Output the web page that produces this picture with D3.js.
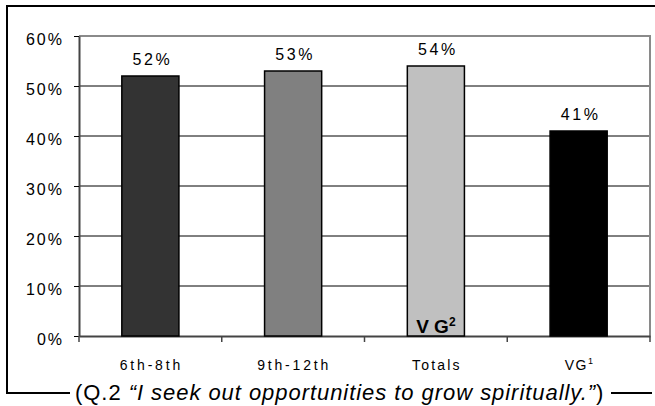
<!DOCTYPE html>
<html>
<head>
<meta charset="utf-8">
<script src="https://cdn.jsdelivr.net/npm/d3@7"></script>
<style>
  body { margin: 0; background: #fff; }
  text { font-family: Arial, "Liberation Sans", sans-serif; fill: #000; }
</style>
</head>
<body>
<svg id="chart" width="655" height="406"></svg>
<script>
// data
const categories = ["6th-8th", "9th-12th", "Totals", "VG"];
const values = [52, 53, 54, 41];
const barColors = ["#333333", "#808080", "#c0c0c0", "#000000"];
const yTicks = [0, 10, 20, 30, 40, 50, 60];

const plot = { left: 79, right: 650, top: 36, bottom: 336 };

const svg = d3.select("#chart");

const x = d3.scaleBand().domain(categories).range([plot.left, plot.right]).padding(0);
const y = d3.scaleLinear().domain([0, 60]).range([plot.bottom, plot.top]);
const barW = x.bandwidth() * 0.4;

// outer frame (top, left, bottom pieces broken by the caption)
svg.append("path")
  .attr("d", "M655,6 H7 V393 H70 M611,393 H652")
  .attr("fill", "none")
  .attr("stroke", "#000")
  .attr("stroke-width", 2);

// gridlines
svg.append("g")
  .selectAll("line")
  .data(yTicks.filter(t => t > 0 && t < 60))
  .enter().append("line")
  .attr("x1", plot.left).attr("x2", plot.right)
  .attr("y1", d => y(d)).attr("y2", d => y(d))
  .attr("stroke", "#000").attr("stroke-width", 1);

// plot border top/right
svg.append("path")
  .attr("d", `M${plot.left},${y(60)} H${plot.right} V${y(0)}`)
  .attr("fill", "none").attr("stroke", "#8a8a8a").attr("stroke-width", 2);

// y axis
const yAxis = svg.append("g").attr("transform", `translate(${plot.left},0)`)
  .call(d3.axisLeft(y).tickValues(yTicks).tickSize(5).tickSizeOuter(0).tickFormat(d => d + "%"));
yAxis.select(".domain").attr("stroke", "#444").attr("stroke-width", 2);
yAxis.selectAll(".tick line").attr("stroke", "#000");
yAxis.selectAll(".tick text")
  .attr("x", -15).attr("dy", null).attr("y", 8)
  .style("font-size", "16px").style("letter-spacing", "2px")
  .attr("fill", "#000");

// x axis
const xAxis = svg.append("g").attr("transform", `translate(0,${plot.bottom})`)
  .call(d3.axisBottom(x).tickSize(0).tickFormat(""));
xAxis.select(".domain").attr("stroke", "#444").attr("stroke-width", 2);
xAxis.selectAll(".tick").remove();
svg.append("g").selectAll("line")
  .data(categories.map(c => x(c)).concat([plot.right]))
  .enter().append("line")
  .attr("x1", d => d).attr("x2", d => d)
  .attr("y1", plot.bottom).attr("y2", plot.bottom + 6)
  .attr("stroke", "#444").attr("stroke-width", 1.5);

// bars
svg.append("g").selectAll("rect")
  .data(values)
  .enter().append("rect")
  .attr("x", (d, i) => x(categories[i]) + x.bandwidth() / 2 - barW / 2)
  .attr("y", d => y(d))
  .attr("width", barW)
  .attr("height", d => y(0) - y(d))
  .attr("fill", (d, i) => barColors[i])
  .attr("stroke", "#000").attr("stroke-width", 1.5);

// value labels
svg.append("g").selectAll("text")
  .data(values)
  .enter().append("text")
  .attr("x", (d, i) => x(categories[i]) + x.bandwidth() / 2 + 2)
  .attr("y", d => y(d) - 11)
  .attr("text-anchor", "middle")
  .style("font-size", "16px").style("letter-spacing", "2.5px")
  .text(d => d + "%");

// category labels
const catLabels = svg.append("g");
categories.forEach((c, i) => {
  const t = catLabels.append("text")
    .attr("x", x(c) + x.bandwidth() / 2 + 1)
    .attr("y", 370)
    .attr("text-anchor", "middle")
    .style("font-size", "14px")
    .style("letter-spacing", i < 2 ? "2.8px" : (c === "Totals" ? "2.2px" : "1.5px"));
  t.append("tspan").text(c);
  if (c === "VG") {
    t.append("tspan").attr("dy", -6).style("font-size", "9px").text("1");
  }
});

// VG² inside the Totals bar
const vg2 = svg.append("text")
  .attr("x", x("Totals") + x.bandwidth() / 2)
  .attr("y", 333)
  .attr("text-anchor", "middle")
  .style("font-size", "19px").style("font-weight", "bold");
vg2.append("tspan").text("V G");
vg2.append("tspan").attr("dy", -7).style("font-size", "12px").text("2");

// caption
const cap = svg.append("text")
  .attr("x", 75).attr("y", 400)
  .style("font-size", "22px").style("letter-spacing", "0.95px");
cap.append("tspan").text("(Q.2 ");
cap.append("tspan").style("font-style", "italic").text("\u201cI seek out opportunities to grow spiritually.\u201d");
cap.append("tspan").text(")");
</script>
</body>
</html>
